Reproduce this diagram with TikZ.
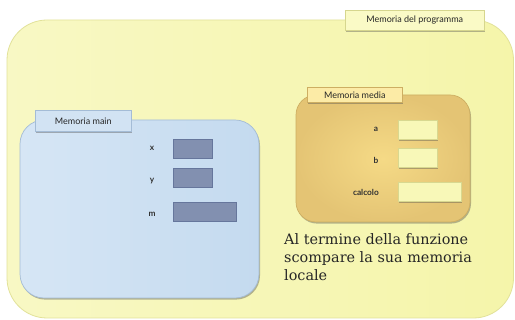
\documentclass[tikz,border=0pt]{standalone}
\usepackage{fontspec}
\setmainfont{DejaVu Serif}
\newfontfamily\labelfont{Lato}
\usetikzlibrary{shadows}
\definecolor{progfill}{HTML}{F5F5AA}
\definecolor{progfillb}{HTML}{F8F8C4}
\definecolor{progline}{HTML}{E2E29A}
\definecolor{tabfill}{HTML}{FAFAC6}
\definecolor{tabline}{HTML}{D6D68E}
\definecolor{mainfill}{HTML}{C4DAEF}
\definecolor{mainfillb}{HTML}{D6E6F5}
\definecolor{mainline}{HTML}{A4BCD6}
\definecolor{maintab}{HTML}{D2E3F3}
\definecolor{varfill}{HTML}{8290B0}
\definecolor{varline}{HTML}{66769C}
\definecolor{mediafill}{HTML}{F5DA86}
\definecolor{mediafillb}{HTML}{E4C474}
\definecolor{medialine}{HTML}{CDAE62}
\definecolor{mediatab}{HTML}{FCEBA6}
\definecolor{cellfill}{HTML}{F8F8B8}
\definecolor{cellline}{HTML}{D8D890}
\tikzset{
  softshadow/.style={drop shadow={shadow xshift=1pt,shadow yshift=-1.6pt,opacity=0.4,fill=black!70}},
  tab/.style={draw=#1, line width=0.6pt, inner sep=0pt, softshadow,
    font=\labelfont\fontsize{9}{10}\selectfont, text=black!85},
  varname/.style={font=\labelfont\bfseries\fontsize{8.3}{9}\selectfont, text=black!80, inner sep=0pt},
  varbox/.style={draw=varline, fill=varfill, line width=0.7pt, inner sep=0pt, minimum height=19pt},
  cellbox/.style={draw=cellline, fill=cellfill, line width=0.6pt, inner sep=0pt, minimum height=19pt, softshadow},
}
\begin{document}
\begin{tikzpicture}[x=1pt,y=-1pt]
\useasboundingbox (0,0) rectangle (515,320);
\fill[white] (0,0) rectangle (515,320);

% program memory
\shade[left color=progfillb, right color=progfill, draw=progline, line width=0.8pt, rounded corners=40pt]
  (7,20) rectangle (513.5,318);
\node[tab=tabline, fill=tabfill, minimum width=139pt, minimum height=20pt, anchor=north west]
  (progtab) at (345,10) {Memoria del programma};

% main memory
\shade[left color=mainfillb, right color=mainfill, draw=mainline, line width=0.7pt, rounded corners=24pt, softshadow]
  (20,120) rectangle (259,298);
\node[tab=mainline, fill=maintab, minimum width=96pt, minimum height=21pt, anchor=north west]
  (maintab) at (35,110) {Memoria main};

\node[varbox, minimum width=39pt, anchor=north west] (xbox) at (173,139) {};
\node[varbox, minimum width=39pt, anchor=north west] (ybox) at (173,168) {};
\node[varbox, minimum width=63pt, anchor=north west] (mbox) at (173,202) {};
\node[varname] (xlab) at (152,148) {x};
\node[varname] (ylab) at (152,181) {y};
\node[varname] (mlab) at (152,214) {m};

% media memory
\shade[inner color=mediafill, outer color=mediafillb, draw=medialine, line width=0.7pt, rounded corners=20pt, softshadow]
  (296,95) rectangle (470,222);
\node[tab=medialine, fill=mediatab, minimum width=95pt, minimum height=15pt, anchor=north west]
  (mediatab) at (307,87) {Memoria media};

\node[cellbox, minimum width=39pt, anchor=north west] (abox) at (398,120) {};
\node[cellbox, minimum width=39pt, anchor=north west] (bbox) at (398,148) {};
\node[cellbox, minimum width=63pt, anchor=north west] (cbox) at (398,182) {};
\node[varname] (alab) at (376,129) {a};
\node[varname] (blab) at (376,160) {b};
\node[varname, anchor=east] (clab) at (379,192) {calcolo};

% note
\node[anchor=north west, align=left, inner sep=0pt, font=\fontsize{14.4}{18}\selectfont, text=black!85]
  (note) at (284,233) {Al termine della funzione\\scompare la sua memoria\\locale};
\end{tikzpicture}
\end{document}
